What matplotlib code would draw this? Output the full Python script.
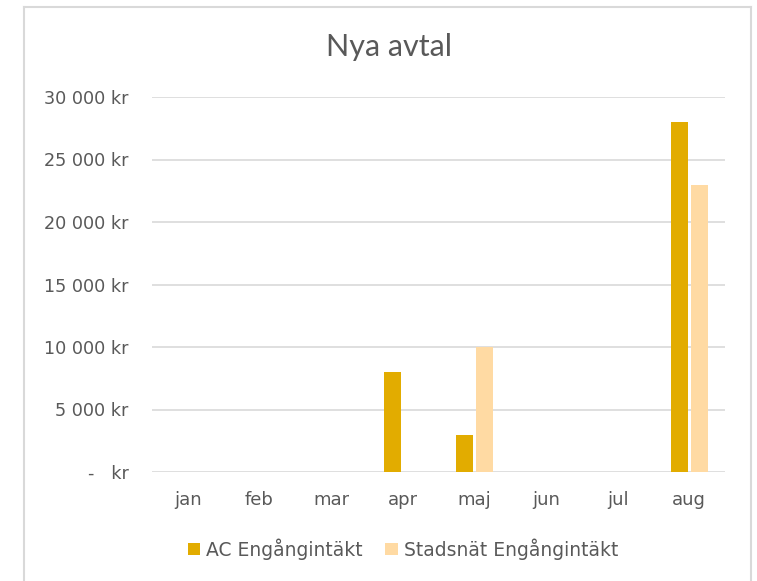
import matplotlib
matplotlib.use("Agg")
import matplotlib.pyplot as plt
import numpy as np
from matplotlib.lines import Line2D
from matplotlib.ticker import FuncFormatter

plt.rcParams['font.family'] = ['DejaVu Sans']

months = ["jan", "feb", "mar", "apr", "maj", "jun", "jul", "aug"]
ac_values = [0, 0, 0, 8000, 3000, 0, 0, 28000]
stadsnat_values = [0, 0, 0, 0, 10000, 0, 0, 23000]
series_names = ["AC Engångintäkt", "Stadsnät Engångintäkt"]
y_ticks = [0, 5000, 10000, 15000, 20000, 25000, 30000]

text_color = "#595959"
grid_color = "#D9D9D9"
ac_color = "#E2AC00"
st_color = "#FFDAA3"

fig = plt.figure(figsize=(7.57, 5.81), dpi=100)
ax = fig.add_axes([152/757, 1-472/581, (725-152)/757, (472-97)/581])

x = np.arange(len(months))
w = 0.237
gap = 0.04
ax.bar(x - (w+gap)/2, ac_values, width=w, color=ac_color, label=series_names[0], zorder=3)
ax.bar(x + (w+gap)/2, stadsnat_values, width=w, color=st_color, label=series_names[1], zorder=3)

ax.set_xlim(-0.5, len(months)-0.5)
ax.set_ylim(0, 30000)
ax.set_yticks(y_ticks)

def fmt(v, pos):
    if v == 0:
        return "-   kr"
    return f"{int(v):,}".replace(",", " ") + " kr"
ax.yaxis.set_major_formatter(FuncFormatter(fmt))
ax.set_xticks(x)
ax.set_xticklabels(months)

for s in ax.spines.values():
    s.set_visible(False)
ax.grid(axis='y', color=grid_color, linewidth=1.2, zorder=0)
ax.set_axisbelow(True)
ax.tick_params(axis='y', length=0, pad=17, labelsize=12.7, labelcolor=text_color)
ax.tick_params(axis='x', length=0, pad=14, labelsize=13, labelcolor=text_color)

fig.text(389/757, 1-47/581, "Nya avtal", ha='center', va='center', fontsize=22,
         color=text_color, family=['Lato', 'DejaVu Sans'])

leg = fig.legend(loc='center', bbox_to_anchor=(403/757, 1-549/581), ncol=2, frameon=False,
                 fontsize=13.5, handlelength=0.65, handleheight=0.65, handletextpad=0.35,
                 columnspacing=1.2, labelcolor=text_color)

# chart border
fig.add_artist(Line2D([23.5/757, 23.5/757], [0, 1-6.5/581], color="#D9D9D9", lw=1.5, transform=fig.transFigure))
fig.add_artist(Line2D([23.5/757, 751/757], [1-6.5/581, 1-6.5/581], color="#D9D9D9", lw=1.5, transform=fig.transFigure))
fig.add_artist(Line2D([751/757, 751/757], [0, 1-6.5/581], color="#D9D9D9", lw=1.5, transform=fig.transFigure))

fig.savefig("out.png", dpi=100)
